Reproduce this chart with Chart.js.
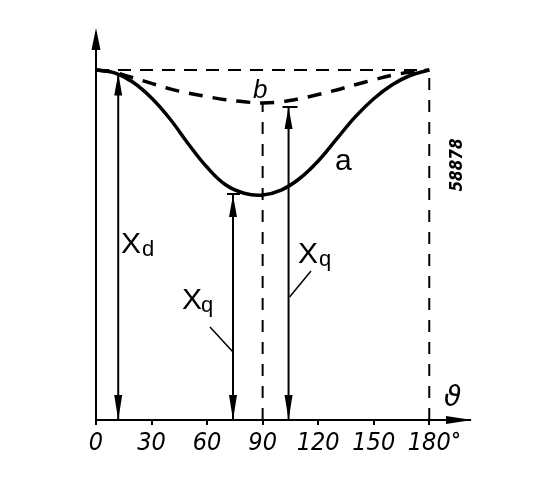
<!DOCTYPE html>
<html>
<head>
<meta charset="utf-8">
<script src="https://cdn.jsdelivr.net/npm/chart.js@4.4.0/dist/chart.umd.min.js"></script>
<style>
  html, body { margin: 0; padding: 0; background: #fff; }
  #wrap { width: 541px; height: 504px; }
</style>
</head>
<body>
<div id="wrap"><canvas id="c"></canvas></div>
<script>
// angle in degrees
const angles = [0, 10, 20, 30, 40, 50, 60, 70, 80, 90, 100, 110, 120, 130, 140, 150, 160, 170, 180];
// curve a (solid) and curve b (dashed), relative reactance, Xd = 1
const curveA = [1.0, 0.992, 0.965, 0.92, 0.86, 0.788, 0.722, 0.672, 0.648, 0.643, 0.657, 0.69, 0.74, 0.803, 0.866, 0.918, 0.958, 0.985, 1.0];
const curveB = [1.0, 0.993, 0.978, 0.962, 0.946, 0.934, 0.924, 0.915, 0.909, 0.906, 0.909, 0.918, 0.93, 0.943, 0.958, 0.972, 0.985, 0.994, 1.0];
const tickVals = [0, 30, 60, 90, 120, 150, 180];

// measuring arrows: Xd, Xq (curve a), Xq (curve b)
const arrowX = [12, 74, 104];
const arrowTop = [0.99, 0.643, 0.894];

const pts = ys => angles.map((a, i) => ({ x: a, y: ys[i] }));
const seg = (x1, y1, x2, y2) => [{ x: x1, y: y1 }, { x: x2, y: y2 }];

const datasets = [
  { data: pts(curveA), borderColor: '#000', borderWidth: 3.5, pointRadius: 0, tension: 0.4 },
  { data: pts(curveB), borderColor: '#000', borderWidth: 3.5, borderDash: [14, 10], pointRadius: 0, tension: 0.4 },
  { data: seg(0, 1, 180, 1), borderColor: '#000', borderWidth: 2, borderDash: [13, 9], pointRadius: 0 },
  { data: seg(180, 0, 180, 1), borderColor: '#000', borderWidth: 2, borderDash: [12, 10], pointRadius: 0 },
  { data: seg(90, 0, 90, curveB[9]), borderColor: '#000', borderWidth: 2, borderDash: [12, 10], pointRadius: 0 }
];
arrowX.forEach((x, i) => {
  datasets.push({ data: seg(x, 0, x, arrowTop[i]), borderColor: '#000', borderWidth: 2, pointRadius: 0 });
});

function head(ctx, x, y, dx, dy, len, w) {
  // tip at (x,y), direction (dx,dy)
  ctx.beginPath();
  ctx.moveTo(x, y);
  ctx.lineTo(x - dx * len - dy * w / 2, y - dy * len + dx * w / 2);
  ctx.lineTo(x - dx * len + dy * w / 2, y - dy * len - dx * w / 2);
  ctx.closePath();
  ctx.fill();
}

const decor = {
  id: 'decor',
  afterDatasetsDraw(chart) {
    const ctx = chart.ctx;
    const xs = chart.scales.x, ys = chart.scales.y;
    const X = v => xs.getPixelForValue(v), Y = v => ys.getPixelForValue(v);
    ctx.save();
    ctx.fillStyle = '#000';
    ctx.strokeStyle = '#000';
    // y axis with arrow
    ctx.lineWidth = 2;
    ctx.beginPath();
    ctx.moveTo(X(0), Y(0));
    ctx.lineTo(X(0), chart.chartArea.top + 4);
    ctx.stroke();
    head(ctx, X(0), chart.chartArea.top, 0, -1, 22, 9);
    // x axis arrow
    head(ctx, chart.chartArea.right + 2, Y(0), 1, 0, 26, 8);

    // measuring arrow heads
    arrowX.forEach((x, i) => {
      head(ctx, X(x), Y(0), 0, 1, 25, 8);
      head(ctx, X(x), Y(arrowTop[i]), 0, -1, 22, 8);
    });
    // small bars at the top of the Xq arrows
    ctx.lineWidth = 2;
    ctx.beginPath();
    ctx.moveTo(X(arrowX[1]) - 6, Y(arrowTop[1]) - 1);
    ctx.lineTo(X(arrowX[1]) + 7, Y(arrowTop[1]) - 1);
    ctx.moveTo(X(arrowX[2]) - 6, Y(arrowTop[2]));
    ctx.lineTo(X(arrowX[2]) + 9, Y(arrowTop[2]));
    ctx.stroke();

    // leader lines for Xq labels
    ctx.lineWidth = 1.5;
    ctx.beginPath();
    ctx.moveTo(210, 327); ctx.lineTo(X(arrowX[1]), 352);
    ctx.moveTo(311, 271); ctx.lineTo(X(arrowX[2]) + 1, 297);
    ctx.stroke();

    // labels
    ctx.textAlign = 'left';
    ctx.textBaseline = 'alphabetic';
    ctx.font = '30px "Liberation Sans", sans-serif';
    ctx.fillText('X', 121, 253);
    ctx.fillText('X', 182, 309);
    ctx.fillText('X', 298, 263);
    ctx.font = '22px "Liberation Sans", sans-serif';
    ctx.fillText('d', 142, 256);
    ctx.fillText('q', 201, 312);
    ctx.fillText('q', 319, 266);
    ctx.font = '30px "Liberation Sans", sans-serif';
    ctx.fillText('a', 335, 170);
    ctx.font = 'italic 26px "Liberation Sans", sans-serif';
    ctx.fillText('b', 253, 98);
    ctx.font = 'italic 28px "DejaVu Sans", sans-serif';
    ctx.fillText('\u03d1', 444, 406);
    ctx.font = 'bold 20px "Liberation Sans", sans-serif';
    ctx.fillText('\u00b0', 452, 446);

    // figure number, rotated
    ctx.translate(462, 165);
    ctx.rotate(-Math.PI / 2);
    ctx.textAlign = 'center';
    ctx.font = 'italic bold 17px "Liberation Sans Narrow", "DejaVu Sans Condensed", sans-serif';
    ctx.fillText('58878', 0, 0);
    ctx.restore();
  }
};

new Chart(document.getElementById('c'), {
  type: 'line',
  data: { datasets },
  options: {
    responsive: true,
    maintainAspectRatio: false,
    animation: false,
    layout: { padding: { left: 96, right: 71, top: 28, bottom: 0 } },
    plugins: { legend: { display: false }, tooltip: { enabled: false } },
    scales: {
      x: {
        type: 'linear',
        min: 0,
        max: 202,
        afterBuildTicks: s => { s.ticks = tickVals.map(v => ({ value: v })); },
        afterFit: s => { s.height = 84; },
        border: { display: true, color: '#000', width: 2 },
        grid: { drawOnChartArea: false, drawTicks: true, tickLength: 5, color: '#000', lineWidth: 2 },
        ticks: {
          color: '#000',
          padding: 3,
          maxRotation: 0,
          autoSkip: false,
          font: { family: '"Liberation Sans Narrow", "DejaVu Sans Condensed", sans-serif', size: 25, style: 'italic' },
          callback: v => String(v)
        }
      },
      y: { display: false, min: 0, max: 1.12 }
    }
  },
  plugins: [decor]
});
</script>
</body>
</html>
